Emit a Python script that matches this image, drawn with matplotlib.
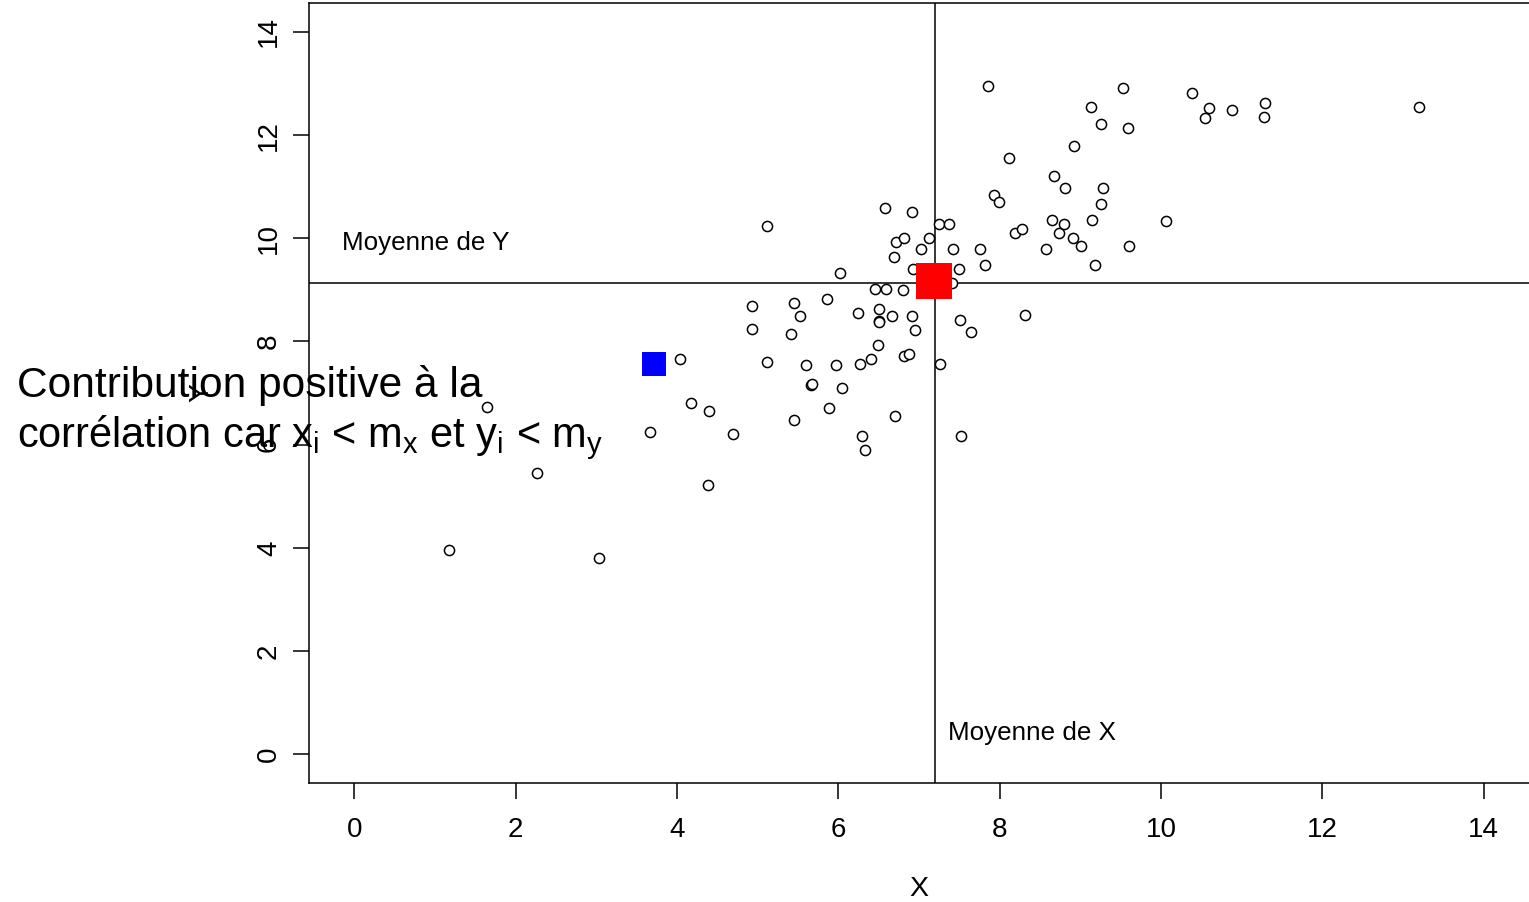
import matplotlib
matplotlib.use("Agg")
import matplotlib.pyplot as plt
import numpy as np

plt.rcParams['font.family'] = ['Liberation Sans', 'DejaVu Sans']
plt.rcParams['mathtext.fontset'] = 'custom'
plt.rcParams['mathtext.rm'] = 'Liberation Sans'
plt.rcParams['mathtext.it'] = 'Liberation Sans'

x_vals = [1.18, 3.03, 2.27, 1.64, 3.67, 4.04, 4.17, 4.40, 4.38, 4.70,
          4.93, 4.93, 5.11, 5.11, 5.45, 5.53, 5.41, 5.60, 5.45, 5.66,
          5.68, 5.86, 5.97, 6.05, 5.88, 6.02, 6.24, 6.27, 6.29, 6.33,
          6.41, 6.49, 6.50, 6.51, 6.50, 6.46, 6.59, 6.58, 6.69, 6.67,
          6.70, 6.72, 6.82, 6.80, 6.82, 6.87, 6.91, 6.91, 6.95, 6.92,
          7.02, 7.13, 7.25, 7.37, 7.42, 7.49, 7.41, 7.26, 7.51, 7.64,
          7.52, 7.85, 7.75, 7.82, 7.93, 7.99, 8.11, 8.19, 8.28, 8.31,
          8.57, 8.65, 8.67, 8.73, 8.80, 8.81, 8.91, 8.92, 9.01, 9.13,
          9.14, 9.18, 9.26, 9.26, 9.28, 9.53, 9.59, 9.60, 10.06, 10.38,
          10.60, 10.55, 10.88, 11.29, 11.27, 13.20]
y_vals = [3.95, 3.81, 5.44, 6.72, 6.25, 7.65, 6.80, 6.66, 5.21, 6.20,
          8.69, 8.25, 10.24, 7.61, 8.75, 8.50, 8.15, 7.55, 6.47, 7.15,
          7.17, 8.83, 7.55, 7.09, 6.70, 9.33, 8.56, 7.57, 6.16, 5.89,
          7.65, 7.94, 8.40, 8.38, 8.62, 9.02, 9.02, 10.59, 9.64, 8.50,
          6.56, 9.93, 10.01, 8.99, 7.71, 7.75, 10.50, 8.50, 8.23, 9.41,
          9.80, 10.01, 10.28, 10.28, 9.80, 9.41, 9.14, 7.57, 8.42, 8.19,
          6.16, 12.96, 9.80, 9.49, 10.84, 10.71, 11.56, 10.11, 10.17, 8.52,
          9.80, 10.36, 11.21, 10.11, 10.28, 10.98, 10.01, 11.79, 9.84, 12.55,
          10.36, 9.49, 12.22, 10.67, 10.98, 12.92, 12.14, 9.84, 10.34, 12.82,
          12.53, 12.34, 12.49, 12.63, 12.35, 12.55]

mean_x = 7.20
mean_y = 9.14
highlight_x = 3.72
highlight_y = 7.56
ticks = [0, 2, 4, 6, 8, 10, 12, 14]

fig = plt.figure(figsize=(15.29, 9.02), dpi=100)
ax = fig.add_axes([309/1529, 1 - 783/902, 1 - 309/1529, 780/902])

ax.plot(x_vals, y_vals, 'o', mfc='white', mec='black', ms=7.3, mew=1.1, ls='none', zorder=3)
ax.axvline(mean_x, color='black', lw=1.1, zorder=2)
ax.axhline(mean_y, color='black', lw=1.1, zorder=2)
ax.plot([mean_x - 0.02], [mean_y + 0.04], 's', color='#ff0000', ms=26, mew=0, zorder=4)
ax.plot([highlight_x], [highlight_y], 's', color='#0000ff', ms=17, mew=0, zorder=4)

ax.set_xlim(-0.56, 14.56)
ax.set_ylim(-0.56, 14.56)
ax.set_xticks(ticks)
ax.set_yticks(ticks)
ax.tick_params(axis='both', direction='out', length=11.5, width=1.1, labelsize=20)
ax.tick_params(axis='x', pad=13)
ax.tick_params(axis='y', pad=8)
for lab in ax.get_yticklabels():
    lab.set_rotation(90)
    lab.set_va('center')
for s in ax.spines.values():
    s.set_linewidth(1.1)
ax.spines['right'].set_visible(False)

ax.set_xlabel('X', fontsize=20.5, labelpad=24)
ax.set_ylabel('Y', fontsize=20.5, labelpad=30)

ax.text(-0.15, 9.9, 'Moyenne de Y', fontsize=18.7, va='center', ha='left')
ax.text(7.36, 0.41, 'Moyenne de X', fontsize=18.7, va='center', ha='left')

fig.text(17/1529, 1 - 397/902, 'Contribution positive à la', fontsize=30.6, ha='left', va='baseline')
fig.text(17/1529, 1 - 447/902,
         r'corrélation car $\mathregular{x_i}$ < $\mathregular{m_x}$ et $\mathregular{y_i}$ < $\mathregular{m_y}$',
         fontsize=29.9, ha='left', va='baseline')

fig.savefig('out.png', dpi=100)
